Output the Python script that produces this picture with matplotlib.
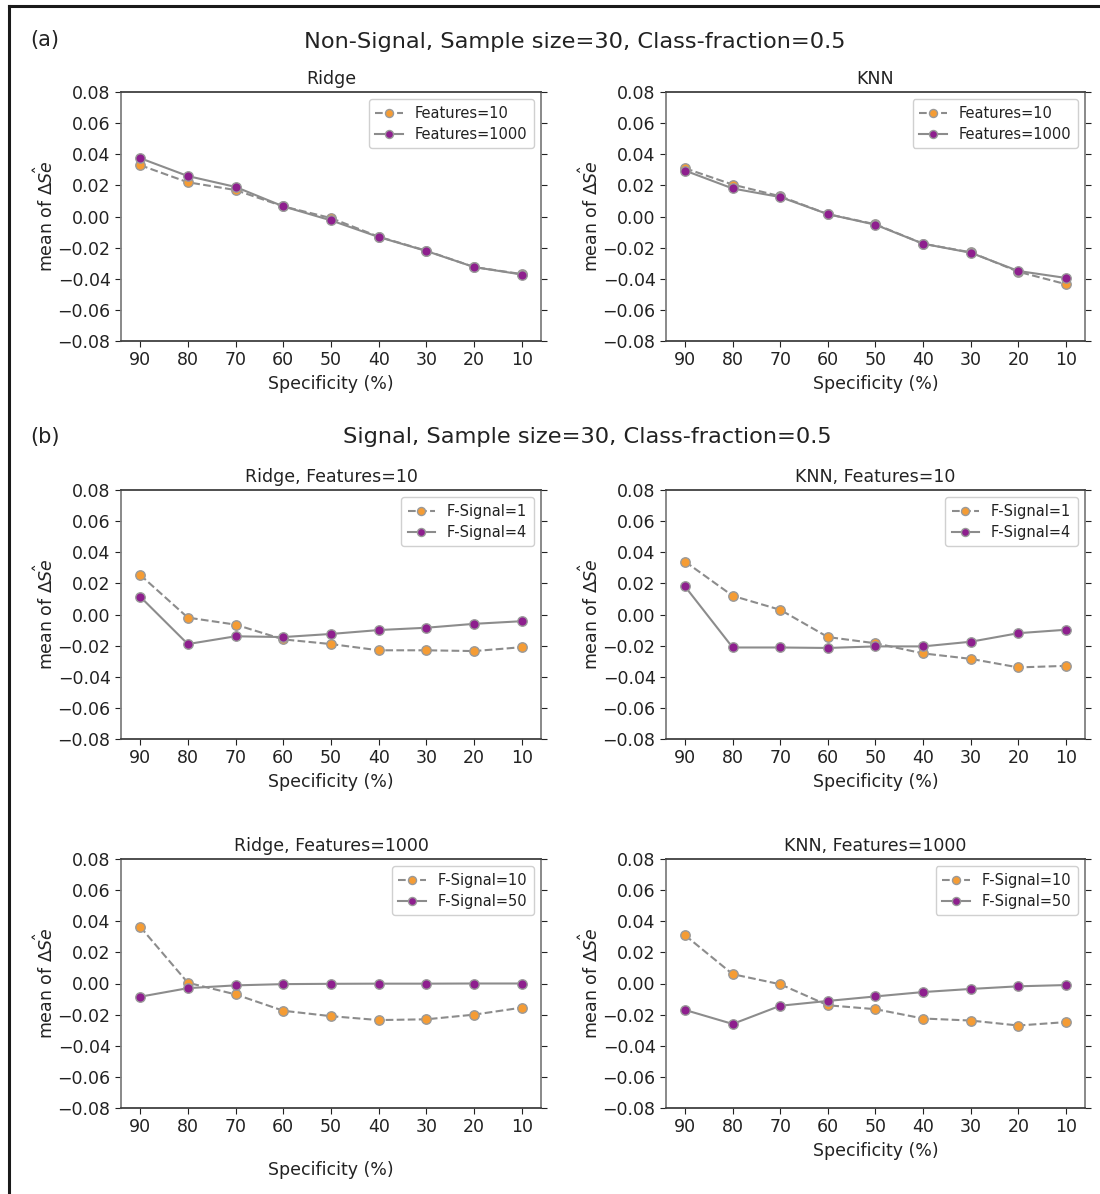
import matplotlib
matplotlib.use("Agg")
import matplotlib.pyplot as plt
from matplotlib.lines import Line2D

plt.rcParams['font.family'] = ['DejaVu Sans']

specificity = [90, 80, 70, 60, 50, 40, 30, 20, 10]
yticks = [0.08, 0.06, 0.04, 0.02, 0.00, -0.02, -0.04, -0.06, -0.08]

# (a) Non-signal
ridge_f10 = [0.033, 0.022, 0.017, 0.0065, -0.001, -0.013, -0.022, -0.0325, -0.037]
ridge_f1000 = [0.0375, 0.026, 0.019, 0.0065, -0.0025, -0.0132, -0.0222, -0.0325, -0.0373]
knn_f10 = [0.031, 0.0205, 0.013, 0.0015, -0.005, -0.0175, -0.023, -0.0355, -0.0435]
knn_f1000 = [0.0295, 0.018, 0.0125, 0.0015, -0.0053, -0.0175, -0.0233, -0.035, -0.0395]

# (b) Signal
ridge10_fs1 = [0.0255, -0.002, -0.0065, -0.016, -0.019, -0.023, -0.023, -0.0235, -0.021]
ridge10_fs4 = [0.0115, -0.019, -0.014, -0.0145, -0.0125, -0.010, -0.0085, -0.006, -0.0043]
knn10_fs1 = [0.034, 0.012, 0.003, -0.0145, -0.0185, -0.025, -0.0285, -0.034, -0.033]
knn10_fs4 = [0.018, -0.0212, -0.0212, -0.0215, -0.0205, -0.0205, -0.0175, -0.012, -0.0098]
ridge1000_fs10 = [0.0365, 0.0005, -0.007, -0.0175, -0.021, -0.0235, -0.023, -0.020, -0.0155]
ridge1000_fs50 = [-0.0085, -0.003, -0.0012, -0.0004, -0.0002, -0.0001, -0.0001, 0.0, 0.0]
knn1000_fs10 = [0.031, 0.006, -0.0005, -0.014, -0.0165, -0.0225, -0.0238, -0.027, -0.0248]
knn1000_fs50 = [-0.017, -0.026, -0.0143, -0.0112, -0.0083, -0.0055, -0.0035, -0.0018, -0.001]

ORANGE = '#f59c34'
PURPLE = '#8e1f8e'
LINE = '#8c8c8c'
EDGE = '#9a9a9a'

W, H = 1100, 1194
fig = plt.figure(figsize=(W / 100, H / 100), dpi=100)


def px_axes(left, top, right, bottom):
    return fig.add_axes([left / W, 1 - bottom / H, (right - left) / W, (bottom - top) / H])


def panel(ax, title, y1, y2, lab1, lab2, xlabelpad=4.0):
    ax.plot(specificity, y1, linestyle='--', color=LINE, lw=1.5, marker='o',
            markersize=6.8, markerfacecolor=ORANGE, markeredgecolor=EDGE,
            markeredgewidth=1.0, label=lab1)
    ax.plot(specificity, y2, linestyle='-', color=LINE, lw=1.5, marker='o',
            markersize=6.8, markerfacecolor=PURPLE, markeredgecolor=EDGE,
            markeredgewidth=1.0, label=lab2)
    ax.set_xlim(94, 6)
    ax.set_ylim(-0.08, 0.08)
    ax.set_xticks(specificity)
    ax.set_xticklabels([str(s) for s in specificity])
    ax.set_yticks(yticks)
    ax.set_yticklabels([f"{v:.2f}".replace('-', '\u2212') for v in yticks])
    ax.tick_params(axis='both', labelsize=12.5, colors='#222222', length=4)
    ax.tick_params(axis='y', right=True, which='both')
    ax.tick_params(axis='y', labelright=False)
    for s in ['left', 'right', 'top']:
        ax.spines[s].set_color('#808080')
        ax.spines[s].set_linewidth(1.3)
    ax.spines['bottom'].set_color('#404040')
    ax.spines['bottom'].set_linewidth(1.3)
    ax.spines['top'].set_color('#404040')
    ax.set_title(title, fontsize=12.5, color='#222222', pad=6)
    ax.set_xlabel('Specificity (%)', fontsize=12.5, color='#222222', labelpad=xlabelpad)
    ax.set_ylabel(r'mean of $\Delta\hat{Se}$', fontsize=12.5, color='#222222', labelpad=0)
    leg = ax.legend(loc='upper right', fontsize=10.5, frameon=True, framealpha=1,
                    edgecolor='#d0d0d0', borderpad=0.45, handlelength=1.9,
                    labelspacing=0.4, markerscale=0.85)
    for t in leg.get_texts():
        t.set_color('#222222')


LX0, LX1 = 121, 541
RX0, RX1 = 666, 1085

ax = px_axes(LX0, 92, LX1, 341)
panel(ax, 'Ridge', ridge_f10, ridge_f1000, 'Features=10', 'Features=1000')
ax = px_axes(RX0, 92, RX1, 341)
panel(ax, 'KNN', knn_f10, knn_f1000, 'Features=10', 'Features=1000')

ax = px_axes(LX0, 490, LX1, 739)
panel(ax, 'Ridge, Features=10', ridge10_fs1, ridge10_fs4, 'F-Signal=1', 'F-Signal=4')
ax = px_axes(RX0, 490, RX1, 739)
panel(ax, 'KNN, Features=10', knn10_fs1, knn10_fs4, 'F-Signal=1', 'F-Signal=4')

ax = px_axes(LX0, 859, LX1, 1108)
panel(ax, 'Ridge, Features=1000', ridge1000_fs10, ridge1000_fs50, 'F-Signal=10', 'F-Signal=50',
      xlabelpad=18)
ax = px_axes(RX0, 859, RX1, 1108)
panel(ax, 'KNN, Features=1000', knn1000_fs10, knn1000_fs50, 'F-Signal=10', 'F-Signal=50')

fig.text(45 / W, 1 - 40 / H, '(a)', fontsize=15, ha='center', va='center', color='#222222')
fig.text(575 / W, 1 - 42 / H, 'Non-Signal, Sample size=30, Class-fraction=0.5', fontsize=16.2,
         ha='center', va='center', color='#222222')
fig.text(45 / W, 1 - 437 / H, '(b)', fontsize=15, ha='center', va='center', color='#222222')
fig.text(587 / W, 1 - 437 / H, 'Signal, Sample size=30, Class-fraction=0.5', fontsize=16.2,
         ha='center', va='center', color='#222222')

# outer frame (left and top edges)
fig.add_artist(Line2D([9 / W, 9 / W], [0, 1 - 6 / H], transform=fig.transFigure,
                      color='#1a1a1a', lw=2.2))
fig.add_artist(Line2D([9 / W, 1], [1 - 6 / H, 1 - 6 / H], transform=fig.transFigure,
                      color='#1a1a1a', lw=2.2))

fig.savefig('out.png', dpi=100)
